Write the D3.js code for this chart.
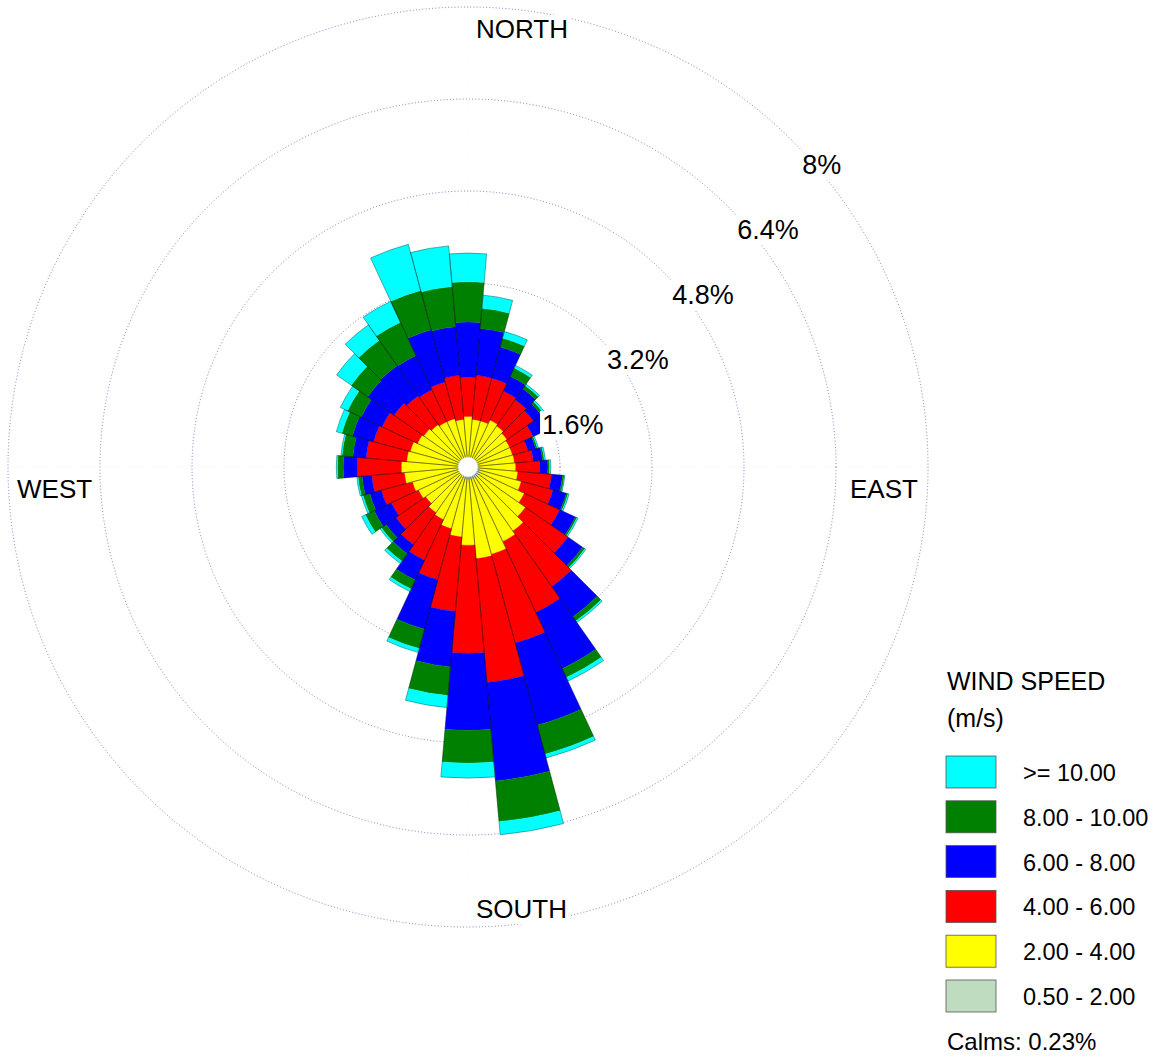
<!DOCTYPE html>
<html>
<head>
<meta charset="utf-8">
<script src="https://cdn.jsdelivr.net/npm/d3@7"></script>
<style>
  body { margin: 0; background: #ffffff; }
  svg { display: block; }
  text { font-family: Arial, "Liberation Sans", sans-serif; fill: #000; }
</style>
</head>
<body>
<svg id="chart" width="1162" height="1057"></svg>
<script>
// ---- data (percent frequency per direction & speed class) ----
const directions = [0,10,20,30,40,50,60,70,80,90,100,110,120,130,140,150,160,170,
                    180,190,200,210,220,230,240,250,260,270,280,290,300,310,320,330,340,350];
const speedClasses = ["0.50 - 2.00", "2.00 - 4.00", "4.00 - 6.00", "6.00 - 8.00", "8.00 - 10.00", ">= 10.00"];
const classColors = ["#C0DCC0", "#FFFF00", "#FF0000", "#0000FF", "#008000", "#00FFFF"];

const freq_0_5_2 = [0.17,0.17,0.17,0.17,0.17,0.17,0.17,0.17,0.17,0.19,0.19,0.21,0.21,0.23,0.23,0.23,0.23,0.23,
                    0.23,0.21,0.21,0.19,0.19,0.17,0.17,0.17,0.17,0.17,0.17,0.17,0.17,0.17,0.17,0.17,0.17,0.17];
const freq_2_4   = [0.71,0.66,0.66,0.73,0.70,0.66,0.63,0.63,0.64,0.64,0.68,0.75,0.87,0.99,1.13,1.20,1.34,1.37,
                    1.13,1.01,0.90,0.82,0.78,0.73,0.78,0.83,0.94,0.99,0.90,0.87,0.80,0.77,0.73,0.70,0.70,0.66];
const freq_4_6   = [0.68,0.77,0.77,0.56,0.56,0.56,0.45,0.28,0.33,0.42,0.59,0.57,0.68,0.90,1.18,1.36,1.60,2.16,
                    1.88,1.30,0.92,0.78,0.68,0.63,0.52,0.56,0.57,0.77,0.71,0.66,0.68,0.63,0.61,0.61,0.66,0.77];
const freq_6_8   = [0.96,0.82,0.56,0.28,0.23,0.17,0.28,0.14,0.16,0.14,0.19,0.24,0.30,0.31,0.64,1.08,1.48,1.72,
                    1.34,0.97,0.89,0.38,0.19,0.21,0.33,0.21,0.17,0.24,0.23,0.38,0.40,0.56,0.64,0.66,0.94,0.85];
const freq_8_10  = [0.70,0.35,0.16,0.16,0.07,0.05,0.03,0.03,0.03,0.03,0.03,0.03,0.03,0.05,0.09,0.17,0.52,0.71,
                    0.57,0.50,0.35,0.17,0.16,0.10,0.17,0.12,0.07,0.10,0.19,0.19,0.26,0.35,0.54,0.64,0.71,0.70];
const freq_10up  = [0.50,0.23,0.12,0.05,0.03,0.03,0.02,0.02,0.02,0.02,0.01,0.02,0.02,0.02,0.03,0.07,0.07,0.23,
                    0.26,0.21,0.07,0.05,0.05,0.03,0.07,0.03,0.02,0.02,0.02,0.10,0.14,0.31,0.33,0.40,0.83,0.71];

const ringTicks = [1.6, 3.2, 4.8, 6.4, 8];
const ringLabels = ["1.6%", "3.2%", "4.8%", "6.4%", "8%"];
const compassLabels = ["NORTH", "EAST", "SOUTH", "WEST"];
const legendTitle = ["WIND SPEED", "(m/s)"];
const calmsText = "Calms: 0.23%";

// ---- layout ----
const svg = d3.select("#chart");
const cx = 468, cy = 467, R = 460;
const rScale = d3.scaleLinear().domain([0, 8]).range([0, R]);
const g = svg.append("g").attr("transform", `translate(${cx},${cy})`);

// very faint crosshair
g.append("line").attr("x1", -R).attr("x2", R).attr("y1", 0).attr("y2", 0)
  .attr("stroke", "#f0f0f4").attr("stroke-width", 0.8).attr("stroke-dasharray", "1 2");
g.append("line").attr("y1", -R).attr("y2", R).attr("x1", 0).attr("x2", 0)
  .attr("stroke", "#f4f4f8").attr("stroke-width", 0.8).attr("stroke-dasharray", "1 2");

// rings
g.selectAll("circle.ring").data(ringTicks).join("circle")
  .attr("class", "ring")
  .attr("r", d => rScale(d))
  .attr("fill", "none")
  .attr("stroke", "#5050b4")
  .attr("stroke-width", 0.9)
  .attr("stroke-dasharray", "1 2.2")
  .attr("stroke-opacity", 0.8);

// stacked bars
const series = [freq_0_5_2, freq_2_4, freq_4_6, freq_6_8, freq_8_10, freq_10up];
const rad = Math.PI / 180;
const arc = d3.arc();
const segs = [];
const totals = [];
directions.forEach((dir, i) => {
  let cum = 0;
  series.forEach((s, k) => {
    const v = s[i];
    segs.push({dir, k, r0: cum, r1: cum + v});
    cum += v;
  });
  totals.push({dir, total: cum});
});

g.append("g").selectAll("path").data(segs).join("path")
  .attr("d", d => arc({
    innerRadius: rScale(d.r0), outerRadius: rScale(d.r1),
    startAngle: (d.dir - 5) * rad, endAngle: (d.dir + 5) * rad
  }))
  .attr("fill", d => classColors[d.k])
  .attr("stroke", d => classColors[d.k])
  .attr("stroke-width", 0.3);

g.append("g").selectAll("path").data(totals).join("path")
  .attr("d", d => arc({
    innerRadius: 0, outerRadius: rScale(d.total),
    startAngle: (d.dir - 5) * rad, endAngle: (d.dir + 5) * rad
  }))
  .attr("fill", "none")
  .attr("stroke", "#000")
  .attr("stroke-width", 0.45)
  .attr("stroke-opacity", 0.7);

// calm hole
g.append("circle").attr("r", 10).attr("fill", "#fff")
  .attr("stroke", "#c8d8c8").attr("stroke-width", 0.8);

// text with white background
function bgText(parent, x, y, str, size, anchor) {
  const grp = parent.append("g");
  const rect = grp.append("rect").attr("fill", "#fff");
  const t = grp.append("text").attr("x", x).attr("y", y)
    .attr("font-size", size).attr("text-anchor", anchor || "start").text(str);
  const b = t.node().getBBox();
  rect.attr("x", b.x - 2).attr("y", b.y + 1).attr("width", b.width + 4).attr("height", b.height - 1);
  return grp;
}

// ring labels along the NE diagonal
ringTicks.forEach((p, i) => {
  const r = rScale(p) * Math.SQRT1_2;
  bgText(g, r + 9, -r + 32, ringLabels[i], 27);
});

// compass labels
const compassPos = [
  {x: 8, y: -R + 31},
  {x: R - 78, y: 31},
  {x: 8, y: R - 9},
  {x: -R + 9 , y: 31}
];
compassLabels.forEach((lab, i) => bgText(g, compassPos[i].x, compassPos[i].y, lab, 26));

// legend
const lg = svg.append("g").attr("transform", "translate(946,0)");
lg.append("text").attr("x", 1).attr("y", 690).attr("font-size", 25).text(legendTitle[0]);
lg.append("text").attr("x", 1).attr("y", 727).attr("font-size", 25).text(legendTitle[1]);
const legendOrder = d3.range(speedClasses.length).reverse();
const ly = d3.scalePoint().domain(legendOrder).range([756, 980]);
legendOrder.forEach(k => {
  lg.append("rect").attr("x", 0).attr("y", ly(k)).attr("width", 50).attr("height", 32)
    .attr("fill", classColors[k]).attr("stroke", "#555").attr("stroke-width", 0.8);
  lg.append("text").attr("x", 77).attr("y", ly(k) + 25).attr("font-size", 23.5).text(speedClasses[k]);
});
lg.append("text").attr("x", 1).attr("y", 1050).attr("font-size", 24).text(calmsText);
</script>
</body>
</html>
